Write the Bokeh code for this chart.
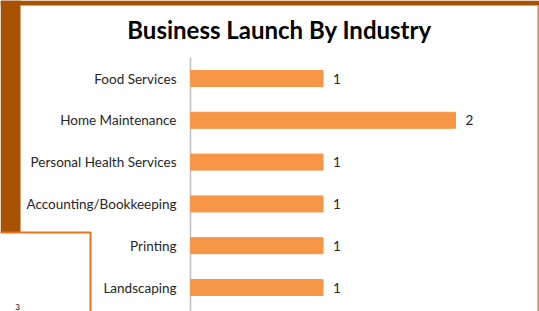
from bokeh.plotting import figure
from bokeh.models import ColumnDataSource, BoxAnnotation, Label, Range1d
from bokeh.embed import file_html
from bokeh.resources import INLINE
from bokeh.core.properties import value

industries = ["Food Services", "Home Maintenance", "Personal Health Services",
              "Accounting/Bookkeeping", "Printing", "Landscaping"]
launches = [1, 2, 1, 1, 1, 1]
title_text = "Business Launch By Industry"
slide_number = "3"

idx = list(range(len(industries)))
src = ColumnDataSource(dict(ind=industries, pos=idx, n=launches,
                            lbl=[str(v) for v in launches]))

W, H = 539, 311
# value axis: 0 at 190px, 132.5 px per launch; category rows 41.8px apart, first at 78px
x0_px, ppu = 190.0, 132.5
y0_px, row = 78.0, 41.8
p = figure(width=W, height=H, output_backend="svg", toolbar_location=None,
           x_axis_type=None, y_axis_type=None,
           x_range=Range1d(-x0_px / ppu, (W - x0_px) / ppu),
           y_range=Range1d((H - y0_px) / row, -y0_px / row),
           min_border=0)
p.min_border_left = p.min_border_right = p.min_border_top = p.min_border_bottom = 0
p.border_fill_color = "white"
p.background_fill_color = "white"
p.outline_line_color = None
p.grid.visible = False

# decorations (canvas coordinates)
brown = "#A85200"
def box(l, r, t, b, fill, line=None, lw=0):
    return BoxAnnotation(left=l, right=r, top=t, bottom=b,
                         left_units="canvas", right_units="canvas",
                         top_units="canvas", bottom_units="canvas",
                         fill_color=fill, fill_alpha=1, line_color=line,
                         line_width=lw, line_alpha=1, level="underlay")
p.add_layout(box(0, W, 0, 5, brown))
p.add_layout(box(0, 20, 0, 232, brown))
p.add_layout(box(537, W, 5, H, "#C98A52"))
p.add_layout(box(-3, 90, 232, H + 5, "white", "#E8731A", 2))

# category axis line
p.segment(x0=0, y0=-0.5, x1=0, y1=len(industries) + 1, line_color="#BFBFBF", line_width=1.5)

p.hbar(y="pos", right="n", left=0, height=16 / row, source=src, color="#F79646")
p.text(x=0, y="pos", text="ind", source=src, x_offset=-14, text_align="right",
       text_baseline="middle", text_font=value("Lato"), text_font_size="13.5px",
       text_color="#262626")
p.text(x="n", y="pos", text="lbl", source=src, x_offset=10, text_baseline="middle",
       text_font=value("Lato"), text_font_size="13.5px", text_color="#262626")

p.add_layout(Label(x=279, y=H - 29, x_units="screen", y_units="screen", text=title_text,
                   text_font="Lato", text_font_style="bold", text_font_size="24px",
                   text_align="center", text_baseline="middle", text_color="black"))
p.add_layout(Label(x=17, y=H - 306, x_units="screen", y_units="screen", text=slide_number,
                   text_font="Lato", text_font_size="8px", text_align="center",
                   text_baseline="middle", text_color="black"))

open("out.html", "w").write(file_html(p, INLINE))
